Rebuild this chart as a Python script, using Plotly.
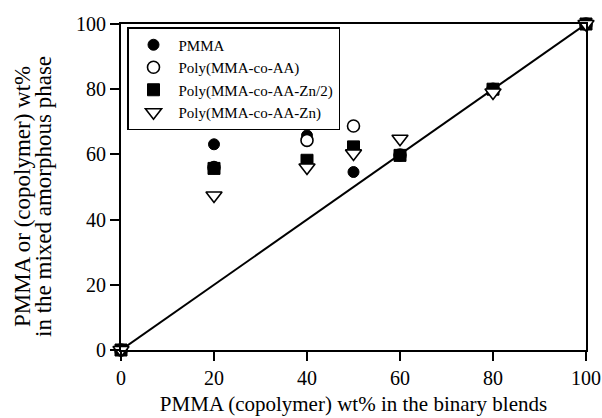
import plotly.graph_objects as go

x_vals = [0, 20, 40, 50, 60, 80, 100]
pmma = [0, 63.1, 65.8, 54.6, 59.8, 80, 100]
poly_aa = [0, 56.0, 64.3, 68.7, 59.8, 80, 100]
poly_zn2 = [0, 55.7, 58.2, 62.3, 59.7, 80, 100]
poly_zn = [0, 47.4, 56.0, 60.3, 64.8, 79, 100]
diag_x = [0, 100]
diag_y = [0, 100]

x_title = "PMMA (copolymer) wt% in the binary blends"
y_title_lines = ["PMMA or (copolymer) wt%", "in the mixed amorphous phase"]

FONT = "Liberation Serif"
W, H = 602, 418
ML, MR, MT, MB = 121, 16, 24, 68
PW = W - ML - MR
PH = H - MT - MB

fig = go.Figure()
fig.add_trace(go.Scatter(x=diag_x, y=diag_y, mode="lines", line=dict(color="black", width=2),
                         showlegend=False, hoverinfo="skip", cliponaxis=False))
fig.add_trace(go.Scatter(x=x_vals, y=pmma, mode="markers", name="PMMA", cliponaxis=False,
                         marker=dict(symbol="circle", size=11, color="black", line=dict(color="black", width=1))))
fig.add_trace(go.Scatter(x=x_vals, y=poly_aa, mode="markers", name="Poly(MMA-co-AA)", cliponaxis=False,
                         marker=dict(symbol="circle", size=12, color="white", line=dict(color="black", width=1.6))))
fig.add_trace(go.Scatter(x=x_vals, y=poly_zn2, mode="markers", name="Poly(MMA-co-AA-Zn/2)", cliponaxis=False,
                         marker=dict(symbol="square", size=12, color="black", line=dict(color="black", width=1))))
fig.add_trace(go.Scatter(x=x_vals, y=poly_zn, mode="markers", name="Poly(MMA-co-AA-Zn)", cliponaxis=False,
                         marker=dict(symbol="triangle-down", size=14, color="white", line=dict(color="black", width=1.6))))

axis_common = dict(showline=True, linecolor="black", linewidth=2, mirror=True, ticks="outside",
                   ticklen=9, tickwidth=2, tickcolor="black", showgrid=False, zeroline=False,
                   tickfont=dict(family=FONT, size=20, color="black"), dtick=20, automargin=False)

fig.update_xaxes(range=[0, 100], title=dict(text=x_title,
                 font=dict(family=FONT, size=21, color="black"), standoff=8), **axis_common)
fig.update_yaxes(range=[0, 100], **axis_common)

# two-line y axis title with tight line spacing, as in the reference
for txt, px in zip(y_title_lines, [22, 43]):
    fig.add_annotation(text=txt, textangle=-90, xref="paper", yref="paper",
                       x=(px - ML) / PW, y=(MT + PH - 197) / PH, xanchor="center", yanchor="middle",
                       showarrow=False, font=dict(family=FONT, size=23, color="black"))

fig.update_layout(
    width=W, height=H,
    margin=dict(l=ML, r=MR, t=MT, b=MB),
    plot_bgcolor="white", paper_bgcolor="white",
    font=dict(family=FONT, color="black"),
    legend=dict(x=(127 - ML) / PW, y=1 - 3 / PH, xanchor="left", yanchor="top", bgcolor="white",
                bordercolor="black", borderwidth=1.5, font=dict(family=FONT, size=15, color="black"),
                itemwidth=40, tracegroupgap=0),
)

fig.write_html("out.html")
